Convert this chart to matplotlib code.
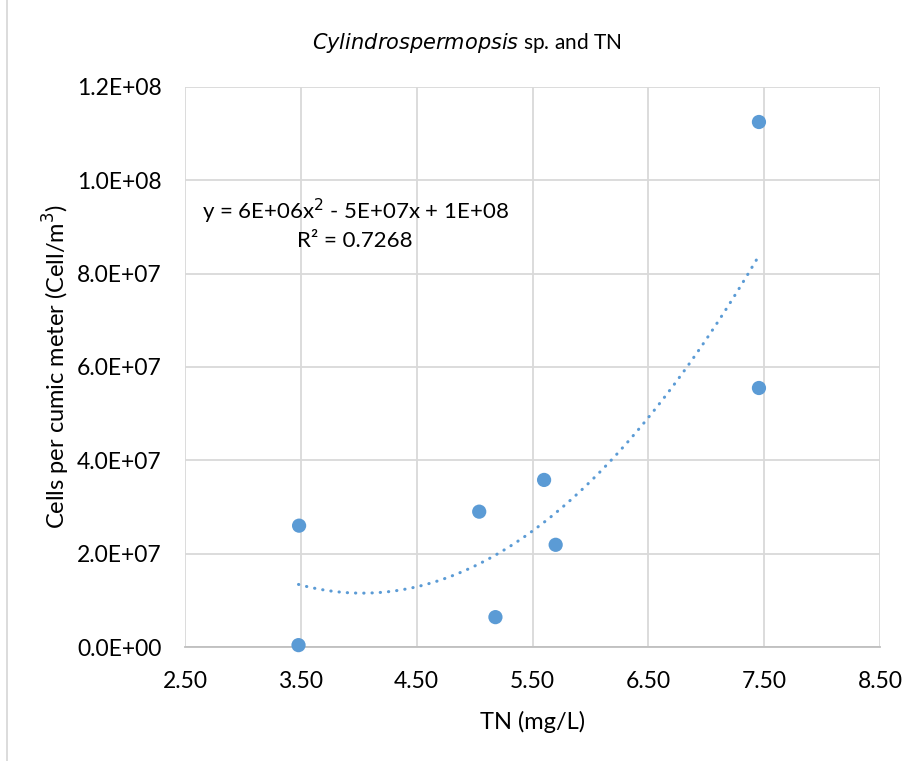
import numpy as np
import matplotlib
matplotlib.use("Agg")
from matplotlib import pyplot as plt
from matplotlib.ticker import FuncFormatter

# data
tn_values = [3.485, 3.48, 5.04, 5.18, 5.60, 5.70, 7.455, 7.455]
cell_counts = [2.60e7, 0.04e7, 2.90e7, 0.64e7, 3.58e7, 2.19e7, 11.25e7, 5.55e7]
x_ticks = [2.5, 3.5, 4.5, 5.5, 6.5, 7.5, 8.5]
y_ticks = [0, 2e7, 4e7, 6e7, 8e7, 1e8, 1.2e8]
trend_eq = "y = 6E+06x$^{2}$ - 5E+07x + 1E+08"
trend_r2 = "R² = 0.7268"

BLUE = "#5B9BD5"
GRID = "#D9D9D9"

plt.rcParams["font.family"] = ["Lato", "DejaVu Sans"]

fig = plt.figure(figsize=(9.23, 7.61), dpi=100)
ax = fig.add_axes([185 / 923, 1 - 647 / 761, 695 / 923, 560 / 761])

# 2nd order polynomial trendline, like excel
coef = np.polyfit(tn_values, cell_counts, 2)
xs = np.linspace(min(tn_values), max(tn_values), 200)
ax.plot(xs, np.polyval(coef, xs), color=BLUE, lw=2.2, linestyle=(0, (0.1, 2.6)),
        dash_capstyle="round", zorder=2)

ax.scatter(tn_values, cell_counts, s=105, color=BLUE, edgecolors="none", zorder=3, clip_on=False)

ax.set_xlim(2.5, 8.5)
ax.set_ylim(0, 1.2e8)
ax.set_xticks(x_ticks)
ax.set_yticks(y_ticks)
ax.xaxis.set_major_formatter(FuncFormatter(lambda v, p: f"{v:.2f}"))
ax.yaxis.set_major_formatter(FuncFormatter(lambda v, p: f"{v:.1E}"))
ax.tick_params(length=0, labelsize=16.5, labelcolor="black")
ax.tick_params(axis="x", pad=17)
ax.tick_params(axis="y", pad=17)
ax.grid(True, color=GRID, lw=1.3)
ax.set_axisbelow(True)
for side in ["top", "right", "left"]:
    ax.spines[side].set_visible(False)
ax.spines["bottom"].set_color("#BFBFBF")
ax.spines["bottom"].set_linewidth(1.3)

ax.set_xlabel("TN (mg/L)", fontsize=17, labelpad=14)
ax.set_ylabel("Cells per cumic meter (Cell/m$^{3}$)", fontsize=17, labelpad=3)

ax.text(3.97, 9.07e7, trend_eq + "\n" + trend_r2, ha="center", va="center",
        fontsize=16, linespacing=1.35)

fig.text(0.506, 1 - 43 / 761, r"$\it{Cylindrospermopsis}$ sp. and TN", ha="center",
         va="center", fontsize=15)

# chart border on the left
fig.add_artist(plt.Line2D([7 / 923, 7 / 923], [0, 1], color=GRID, lw=1.3))

fig.savefig("out.png", dpi=100)
